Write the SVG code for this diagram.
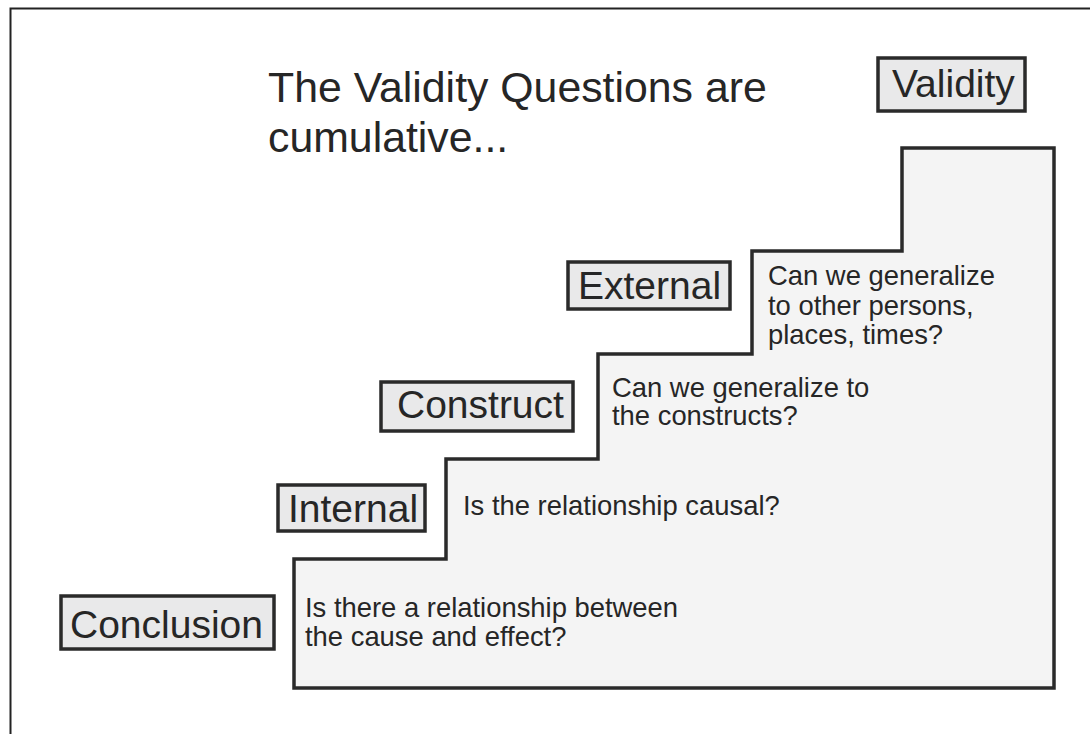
<svg xmlns="http://www.w3.org/2000/svg" width="1090" height="734" viewBox="0 0 1090 734">
<style>
.lbl{fill:#e9e9ea;stroke:#2a2a2a;stroke-width:3.5}
.lt{font-family:"Liberation Sans",Arial,sans-serif;font-size:39px;fill:#262626}
.bt{font-family:"Liberation Sans",Arial,sans-serif;font-size:27.4px;fill:#262626}
.tt{font-family:"Liberation Sans",Arial,sans-serif;font-size:42.8px;fill:#262626}
</style>
<rect x="0" y="0" width="1090" height="734" fill="#ffffff"/>
<path d="M10.5,734 V8.5 H1090" fill="none" stroke="#222" stroke-width="2"/>
<g id="title">
<text class="tt" x="268" y="102">The Validity Questions are</text>
<text class="tt" x="268" y="152">cumulative...</text>
</g>
<g id="staircase">
<path d="M294,688 V559 H446 V459 H598 V354 H752 V251 H902 V148 H1054 V688 Z" fill="#f4f4f4" stroke="#2a2a2a" stroke-width="3.5" stroke-linejoin="miter"/>
</g>
<g id="conclusion">
<rect class="lbl" x="61" y="596" width="213" height="53"/>
<text class="lt" x="70" y="638">Conclusion</text>
<text class="bt" x="305" y="617">Is there a relationship between</text>
<text class="bt" x="305" y="645.5">the cause and effect?</text>
</g>
<g id="internal">
<rect class="lbl" x="278" y="485" width="147" height="46"/>
<text class="lt" x="288" y="522">Internal</text>
<text class="bt" x="463" y="515">Is the relationship causal?</text>
</g>
<g id="construct">
<rect class="lbl" x="381" y="382" width="192" height="49"/>
<text class="lt" x="397" y="418">Construct</text>
<text class="bt" x="612" y="397">Can we generalize to</text>
<text class="bt" x="612" y="425">the constructs?</text>
</g>
<g id="external">
<rect class="lbl" x="568" y="262" width="162" height="47"/>
<text class="lt" x="578" y="299">External</text>
<text class="bt" x="768" y="285">Can we generalize</text>
<text class="bt" x="768" y="315">to other persons,</text>
<text class="bt" x="768" y="344">places, times?</text>
</g>
<g id="validity">
<rect class="lbl" x="878" y="58" width="147" height="53"/>
<text class="lt" x="892" y="97">Validity</text>
</g>
<g id="connectors"></g>
</svg>
